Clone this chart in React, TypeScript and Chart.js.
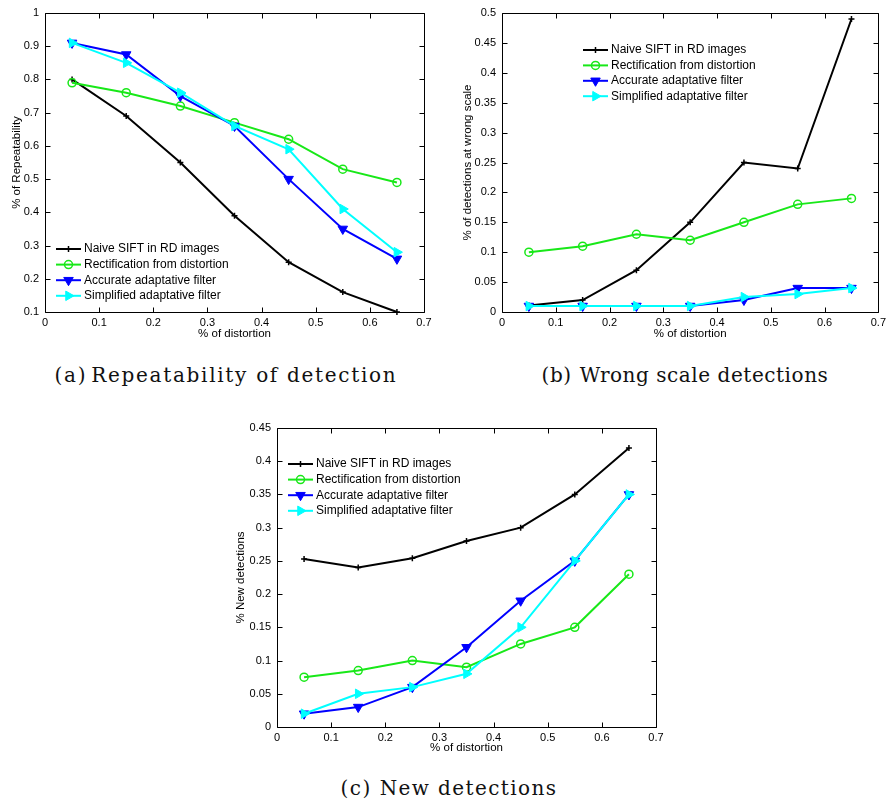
import React, { useEffect, useRef } from "react";
import { Chart, registerables } from "chart.js";

Chart.register(...registerables);

// ---------- data ----------
const xDistortion = [0.05, 0.15, 0.25, 0.35, 0.45, 0.55, 0.65];
const seriesNames = [
  "Naive SIFT in RD images",
  "Rectification from distortion",
  "Accurate adaptative filter",
  "Simplified adaptative filter",
];

const xTickValues = [0, 0.1, 0.2, 0.3, 0.4, 0.5, 0.6, 0.7];

// (a) Repeatability of detection
const repNaive = [0.8, 0.69, 0.55, 0.39, 0.25, 0.16, 0.1];
const repRect = [0.79, 0.76, 0.72, 0.67, 0.62, 0.53, 0.49];
const repAccurate = [0.91, 0.875, 0.75, 0.66, 0.5, 0.35, 0.26];
const repSimplified = [0.91, 0.85, 0.76, 0.66, 0.59, 0.41, 0.28];
const repYTicks = [0.1, 0.2, 0.3, 0.4, 0.5, 0.6, 0.7, 0.8, 0.9, 1];

// (b) Wrong scale detections
const wrongNaive = [0.011, 0.02, 0.07, 0.15, 0.25, 0.24, 0.49];
const wrongRect = [0.1, 0.11, 0.13, 0.12, 0.15, 0.18, 0.19];
const wrongAccurate = [0.01, 0.01, 0.01, 0.01, 0.02, 0.04, 0.04];
const wrongSimplified = [0.01, 0.01, 0.01, 0.01, 0.025, 0.03, 0.04];
const wrongYTicks = [0, 0.05, 0.1, 0.15, 0.2, 0.25, 0.3, 0.35, 0.4, 0.45, 0.5];

// (c) New detections
const newNaive = [0.253, 0.24, 0.254, 0.28, 0.3, 0.35, 0.42];
const newRect = [0.075, 0.085, 0.1, 0.09, 0.125, 0.15, 0.23];
const newAccurate = [0.02, 0.03, 0.06, 0.12, 0.19, 0.25, 0.35];
const newSimplified = [0.02, 0.05, 0.06, 0.08, 0.15, 0.25, 0.35];
const newYTicks = [0, 0.05, 0.1, 0.15, 0.2, 0.25, 0.3, 0.35, 0.4, 0.45];

const captionLabels = ["(a)", "(b)", "(c)"];
const captionTexts = ["Repeatability of detection", "Wrong scale detections", "New detections"];
const xTitle = "% of distortion";

// ---------- styles ----------
const SANS = '"Liberation Sans", Arial, Helvetica, sans-serif';
const seriesStyles = [
  { color: "#000000", pointStyle: "cross", radius: 3, rotation: 0, fill: "#000000", pw: 1.5 },
  { color: "#18e818", pointStyle: "circle", radius: 4, rotation: 0, fill: "rgba(0,0,0,0)", pw: 1.5 },
  { color: "#0000ff", pointStyle: "triangle", radius: 5.5, rotation: 180, fill: "#0000ff", pw: 1 },
  { color: "#00ffff", pointStyle: "triangle", radius: 5.5, rotation: 90, fill: "#00ffff", pw: 1 },
];

const fmt = (v: number) => String(Math.round(v * 1000) / 1000);

function drawMarker(ctx: CanvasRenderingContext2D, st: any, x: number, y: number) {
  ctx.save();
  ctx.strokeStyle = st.color;
  ctx.fillStyle = st.fill;
  ctx.lineWidth = st.pw;
  const r = st.radius;
  if (st.pointStyle === "cross") {
    ctx.beginPath();
    ctx.moveTo(x - r, y);
    ctx.lineTo(x + r, y);
    ctx.moveTo(x, y - r);
    ctx.lineTo(x, y + r);
    ctx.stroke();
  } else if (st.pointStyle === "circle") {
    ctx.beginPath();
    ctx.arc(x, y, r, 0, Math.PI * 2);
    ctx.stroke();
  } else {
    let a = (st.rotation * Math.PI) / 180;
    ctx.beginPath();
    for (let k = 0; k < 3; k++) {
      const px = x + Math.sin(a) * r;
      const py = y - Math.cos(a) * r;
      if (k === 0) ctx.moveTo(px, py);
      else ctx.lineTo(px, py);
      a += (2 * Math.PI) / 3;
    }
    ctx.closePath();
    ctx.fill();
    ctx.stroke();
  }
  ctx.restore();
}

const matlabFrame = {
  id: "matlabFrame",
  afterDraw(chart: any, _args: any, opts: any) {
    const { ctx, chartArea: a, scales } = chart;
    ctx.save();
    const L = Math.round(a.left) + 0.5;
    const R = Math.round(a.right) + 0.5;
    const T = Math.round(a.top) + 0.5;
    const B = Math.round(a.bottom) + 0.5;
    ctx.strokeStyle = "#000";
    ctx.lineWidth = 1;
    ctx.beginPath();
    ctx.rect(L, T, R - L, B - T);
    const tl = 5;
    scales.x.ticks.forEach((t: any) => {
      const px = Math.round(scales.x.getPixelForValue(t.value)) + 0.5;
      ctx.moveTo(px, B);
      ctx.lineTo(px, B - tl);
      ctx.moveTo(px, T);
      ctx.lineTo(px, T + tl);
    });
    scales.y.ticks.forEach((t: any) => {
      const py = Math.round(scales.y.getPixelForValue(t.value)) + 0.5;
      ctx.moveTo(L, py);
      ctx.lineTo(L + tl, py);
      ctx.moveTo(R, py);
      ctx.lineTo(R - tl, py);
    });
    ctx.stroke();

    // legend
    const lg = opts.legend;
    chart.data.datasets.forEach((ds: any, i: number) => {
      const st = seriesStyles[i];
      const y = a.top + lg.dy + i * lg.rowH;
      const x0 = a.left + lg.lx0;
      const x1 = a.left + lg.lx1;
      ctx.strokeStyle = st.color;
      ctx.lineWidth = 2;
      ctx.beginPath();
      ctx.moveTo(x0, y);
      ctx.lineTo(x1, y);
      ctx.stroke();
      drawMarker(ctx, st, (x0 + x1) / 2, y);
      ctx.fillStyle = "#000";
      ctx.font = `12px ${SANS}`;
      ctx.textBaseline = "middle";
      ctx.textAlign = "left";
      ctx.fillText(ds.label, x1 + 3, y);
    });
    ctx.restore();
  },
};

type PanelProps = {
  left: number;
  top: number;
  width: number;
  height: number;
  pad: { left: number; right: number; top: number; bottom: number };
  yAxisWidth: number;
  xAxisHeight: number;
  yTitle: string;
  yTitlePad: number;
  xTitlePad: number;
  yTicks: number[];
  series: number[][];
  legend: { lx0: number; lx1: number; dy: number; rowH: number };
};

function Panel(p: PanelProps) {
  const ref = useRef<HTMLCanvasElement | null>(null);
  useEffect(() => {
    if (!ref.current) return;
    const datasets = p.series.map((ys, i) => {
      const st = seriesStyles[i];
      return {
        label: seriesNames[i],
        data: xDistortion.map((x, k) => ({ x, y: ys[k] })),
        borderColor: st.color,
        backgroundColor: st.color,
        borderWidth: 2,
        pointStyle: st.pointStyle,
        pointRadius: st.radius,
        pointRotation: st.rotation,
        pointBackgroundColor: st.fill,
        pointBorderColor: st.color,
        pointBorderWidth: st.pw,
        tension: 0,
        clip: false,
        order: 4 - i,
      };
    });
    const yMin = p.yTicks[0];
    const yMax = p.yTicks[p.yTicks.length - 1];
    const chart = new Chart(ref.current, {
      type: "line",
      data: { datasets } as any,
      options: {
        animation: false,
        responsive: false,
        devicePixelRatio: 1,
        layout: { padding: p.pad },
        plugins: {
          legend: { display: false },
          tooltip: { enabled: false },
          matlabFrame: { legend: p.legend },
        } as any,
        scales: {
          x: {
            type: "linear",
            min: xTickValues[0],
            max: xTickValues[xTickValues.length - 1],
            grid: { display: false, drawTicks: false, tickLength: 0 },
            border: { display: false },
            ticks: {
              color: "#000",
              padding: 4,
              font: { family: SANS, size: 11 },
              maxRotation: 0,
              callback: (v: any) => fmt(Number(v)),
            },
            afterBuildTicks: (s: any) => {
              s.ticks = xTickValues.map((v) => ({ value: v }));
            },
            afterFit: (s: any) => {
              s.height = p.xAxisHeight;
            },
            title: {
              display: true,
              text: xTitle,
              color: "#000",
              font: { family: SANS, size: 11.5 },
              padding: { top: 0, bottom: p.xTitlePad },
            },
          },
          y: {
            type: "linear",
            min: yMin,
            max: yMax,
            grid: { display: false, drawTicks: false, tickLength: 0 },
            border: { display: false },
            ticks: {
              color: "#000",
              padding: 6,
              font: { family: SANS, size: 11 },
              callback: (v: any) => fmt(Number(v)),
            },
            afterBuildTicks: (s: any) => {
              s.ticks = p.yTicks.map((v) => ({ value: v }));
            },
            afterFit: (s: any) => {
              s.width = p.yAxisWidth;
            },
            title: {
              display: true,
              text: p.yTitle,
              color: "#000",
              font: { family: SANS, size: 11.5 },
              padding: { top: p.yTitlePad, bottom: 0 },
            },
          },
        },
      } as any,
      plugins: [matlabFrame as any],
    });
    return () => chart.destroy();
  }, []);
  return (
    <canvas
      ref={ref}
      width={p.width}
      height={p.height}
      style={{ position: "absolute", left: p.left, top: p.top, width: p.width, height: p.height }}
    />
  );
}

const captionStyle: React.CSSProperties = {
  position: "absolute",
  transform: "translate(-50%, -50%)",
  whiteSpace: "nowrap",
  fontFamily: '"DejaVu Serif", serif',
  fontSize: 20,
  color: "#111",
  lineHeight: "24px",
};

function Caption(props: { i: number; x: number; y: number; ls: number; gap: number }) {
  return (
    <div style={{ ...captionStyle, left: props.x, top: props.y, letterSpacing: props.ls }}>
      <span style={{ marginRight: props.gap }}>{captionLabels[props.i]}</span>
      {captionTexts[props.i]}
    </div>
  );
}

export default function App() {
  return (
    <div style={{ position: "absolute", left: 0, top: 0, width: 890, height: 805, background: "#fff", overflow: "hidden" }}>
      <Panel
        left={0}
        top={0}
        width={445}
        height={345}
        pad={{ left: 0, right: 21, top: 13, bottom: 0 }}
        yAxisWidth={45}
        xAxisHeight={33}
        yTitle="% of Repeatability"
        yTitlePad={10}
        xTitlePad={4}
        yTicks={repYTicks}
        series={[repNaive, repRect, repAccurate, repSimplified]}
        legend={{ lx0: 11, lx1: 36, dy: 236, rowH: 15.6 }}
      />
      <Panel
        left={445}
        top={0}
        width={445}
        height={345}
        pad={{ left: 0, right: 8, top: 13, bottom: 0 }}
        yAxisWidth={57}
        xAxisHeight={33}
        yTitle="% of detections at wrong scale"
        yTitlePad={16}
        xTitlePad={4}
        yTicks={wrongYTicks}
        series={[wrongNaive, wrongRect, wrongAccurate, wrongSimplified]}
        legend={{ lx0: 81, lx1: 106, dy: 37, rowH: 15.4 }}
      />
      <Panel
        left={220}
        top={415}
        width={450}
        height={345}
        pad={{ left: 0, right: 14, top: 13, bottom: 0 }}
        yAxisWidth={57}
        xAxisHeight={33}
        yTitle="% New detections"
        yTitlePad={14}
        xTitlePad={5}
        yTicks={newYTicks}
        series={[newNaive, newRect, newAccurate, newSimplified]}
        legend={{ lx0: 11, lx1: 36, dy: 36, rowH: 15.6 }}
      />
      <Caption i={0} x={226} y={375} ls={1.7} gap={4} />
      <Caption i={1} x={685} y={375} ls={0.55} gap={8} />
      <Caption i={2} x={449} y={788} ls={1.4} gap={8} />
    </div>
  );
}
